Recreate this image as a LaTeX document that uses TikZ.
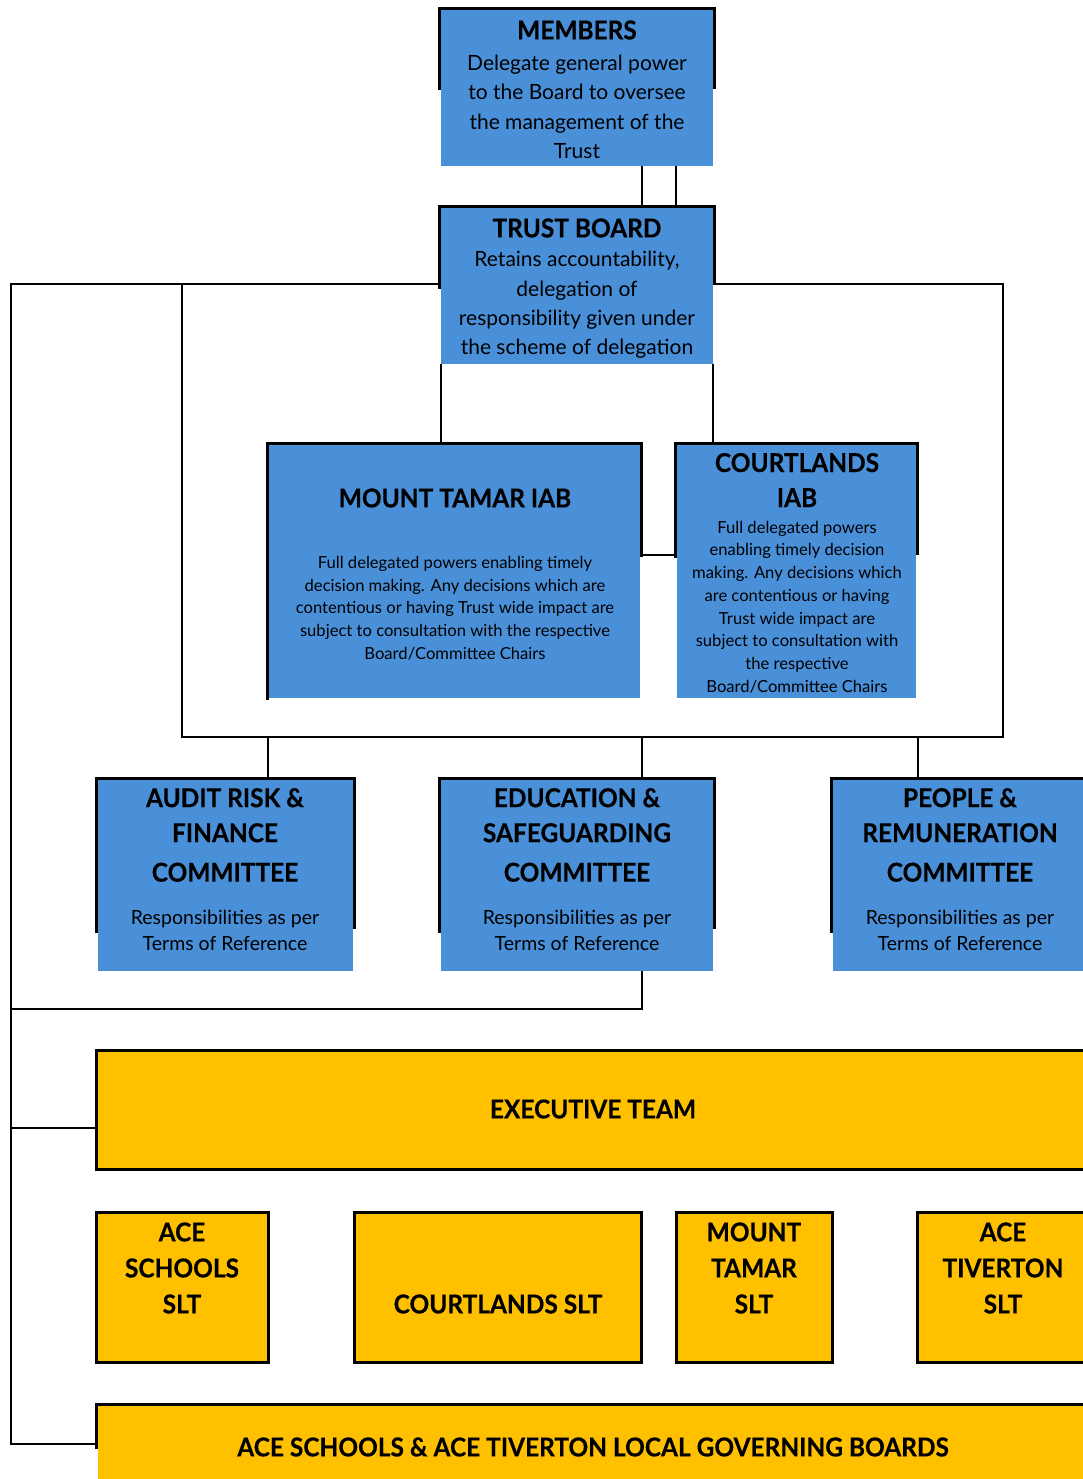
\documentclass[tikz,border=0pt]{standalone}
\usepackage{fontspec}
\setmainfont{Lato}
\newfontfamily\ttlfont{Lato}[FakeStretch=0.94, FakeBold=0.4]
\definecolor{boxblue}{RGB}{74,144,217}
\definecolor{boxgold}{RGB}{255,192,0}
\tikzset{
  fillbox/.style={draw=none, inner sep=0pt, outer sep=0pt},
  frame/.style={line width=3.2pt, line join=miter, line cap=rect},
  conn/.style={line width=2.3pt, line join=miter},
  ttl/.style={font=\ttlfont\bfseries\fontsize{26}{35}\selectfont, align=center, inner sep=0pt},
  sltttl/.style={font=\ttlfont\bfseries\fontsize{26}{36}\selectfont, align=center, inner sep=0pt},
  bdy/.style={font=\fontsize{21}{29.3}\selectfont, align=center, inner sep=0pt},
  sbdy/.style={font=\fontsize{16.6}{22.7}\selectfont, align=center, inner sep=0pt},
  cbdy/.style={font=\fontsize{19.5}{26}\selectfont, align=center, inner sep=0pt},
}
% node spanning the fill area x0,y0 -> x1,y1
\newcommand\fillrect[6]{\node[fillbox, fill=#6, minimum width={#4-#2}, minimum height={#5-#3}] (#1) at ({(#2+#4)/2},{(#3+#5)/2}) {};}
% partial frame: left side down to #4, top, right side down to #5
\newcommand\topframe[5]{\draw[frame] ({#1-1.6},#4) -- ({#1-1.6},{#2-1.6}) -- ({#3+1.6},{#2-1.6}) -- ({#3+1.6},#5);}
\newcommand\fullframe[4]{\draw[frame] ({#1-1.6},{#2-1.6}) rectangle ({#3+1.6},{#4+1.6});}
\begin{document}
\begin{tikzpicture}[x=1pt, y=-1pt]
\useasboundingbox (0,0) rectangle (1083,1479);
\clip (0,0) rectangle (1083,1479);

% ---------- frames ----------
\topframe{441}{10}{713}{88}{87}
\topframe{441}{208}{713}{287}{283}
\topframe{269}{445}{640}{698}{555}
\topframe{677}{445}{916}{556}{553}
\topframe{98}{780}{353}{931}{927}
\topframe{441}{780}{713}{931}{927}
\topframe{833}{780}{1110}{931}{927}
\fullframe{98}{1052}{1110}{1168}
\fullframe{98}{1214}{267}{1361}
\fullframe{356}{1214}{640}{1361}
\fullframe{678}{1214}{831}{1361}
\fullframe{919}{1214}{1110}{1361}
\topframe{98}{1406}{1110}{1447}{1500}

% ---------- boxes ----------
\fillrect{members}{441}{10}{713}{166}{boxblue}
\fillrect{trust}{441}{208}{713}{364}{boxblue}
\fillrect{mtiab}{269}{445}{640}{698}{boxblue}
\fillrect{ctiab}{677}{445}{916}{698}{boxblue}
\fillrect{audit}{98}{780}{353}{971}{boxblue}
\fillrect{edu}{441}{780}{713}{971}{boxblue}
\fillrect{people}{833}{780}{1110}{971}{boxblue}
\fillrect{exec}{98}{1052}{1110}{1168}{boxgold}
\fillrect{aceslt}{98}{1214}{267}{1361}{boxgold}
\fillrect{cslt}{356}{1214}{640}{1361}{boxgold}
\fillrect{mtslt}{678}{1214}{831}{1361}{boxgold}
\fillrect{tivslt}{919}{1214}{1110}{1361}{boxgold}
\fillrect{lgb}{98}{1406}{1110}{1500}{boxgold}

% ---------- connectors ----------
\coordinate (spineTop) at (11,284);
\coordinate (spineBot) at (11,1444);
\coordinate (busL) at (182,737);
\coordinate (busR) at (1003,737);
\coordinate (eduLow) at (642,1009);
\coordinate (spineMid) at (11,1009);
\coordinate (spineExec) at (11,1128);
\coordinate (iabLink) at (660,555);

\draw[conn] ([xshift=65pt]members.south) -- ([xshift=65pt]members.south |- trust.north);
\draw[conn] ([xshift=99pt]members.south) -- ([xshift=99pt]members.south |- trust.north);
\draw[conn] (trust.west |- spineTop) -- (spineTop) -- (spineBot) -- (lgb.west |- spineBot);
\draw[conn] (busL |- spineTop) -- (busL) -- (busR) -- (busR |- spineTop) -- (trust.east |- spineTop);
\draw[conn] (trust.south west) -- (trust.south west |- mtiab.north);
\draw[conn] (trust.south east) -- (trust.south east |- ctiab.north);
\draw[conn] (mtiab.east |- iabLink) -- (ctiab.west |- iabLink);
\draw[conn] (audit.north -| 268,0) -- (268,737);
\draw[conn] (edu.north -| eduLow) -- (eduLow |- busL);
\draw[conn] (people.north -| 918,0) -- (918,737);
\draw[conn] (edu.south -| eduLow) -- (eduLow) -- (spineMid);
\draw[conn] (spineExec) -- (exec.west |- spineExec);

% ---------- texts ----------
\node[ttl] (members-t) at (577,30) {MEMBERS};
\node[bdy] (members-b) at (577,107) {Delegate general power\\to the Board to oversee\\the management of the\\Trust};
\node[ttl] (trust-t) at (577,228) {TRUST BOARD};
\node[bdy] (trust-b) at (577,305) {Retains accountability,\\delegation of\\responsibility given under\\the scheme of delegation};
\node[ttl] (mtiab-t) at (455,498) {MOUNT TAMAR IAB};
\node[sbdy] (mtiab-b) at (455,608) {Full delegated powers enabling timely\\decision making. Any decisions which are\\contentious or having Trust wide impact are\\subject to consultation with the respective\\Board/Committee Chairs};
\node[ttl] (ctiab-t) at (797,480) {COURTLANDS\\IAB};
\node[sbdy] (ctiab-b) at (797,607) {Full delegated powers\\enabling timely decision\\making. Any decisions which\\are contentious or having\\Trust wide impact are\\subject to consultation with\\the respective\\Board/Committee Chairs};
\node[ttl] (audit-t) at (225,835) {AUDIT RISK \&\\FINANCE\\[4.5pt]COMMITTEE};
\node[cbdy] (audit-b) at (225,930) {Responsibilities as per\\Terms of Reference};
\node[ttl] (edu-t) at (577,835) {EDUCATION \&\\SAFEGUARDING\\[4.5pt]COMMITTEE};
\node[cbdy] (edu-b) at (577,930) {Responsibilities as per\\Terms of Reference};
\node[ttl] (people-t) at (960,835) {PEOPLE \&\\REMUNERATION\\[4.5pt]COMMITTEE};
\node[cbdy] (people-b) at (960,930) {Responsibilities as per\\Terms of Reference};
\node[ttl] (exec-t) at (593,1109) {EXECUTIVE TEAM};
\node[sltttl] (aceslt-t) at (182,1268) {ACE\\SCHOOLS\\SLT};
\node[ttl] (cslt-t) at (498,1304) {COURTLANDS SLT};
\node[sltttl] (mtslt-t) at (754,1268) {MOUNT\\TAMAR\\SLT};
\node[sltttl] (tivslt-t) at (1003,1268) {ACE\\TIVERTON\\SLT};
\node[ttl] (lgb-t) at (593,1447) {ACE SCHOOLS \& ACE TIVERTON LOCAL GOVERNING BOARDS};
\end{tikzpicture}
\end{document}
